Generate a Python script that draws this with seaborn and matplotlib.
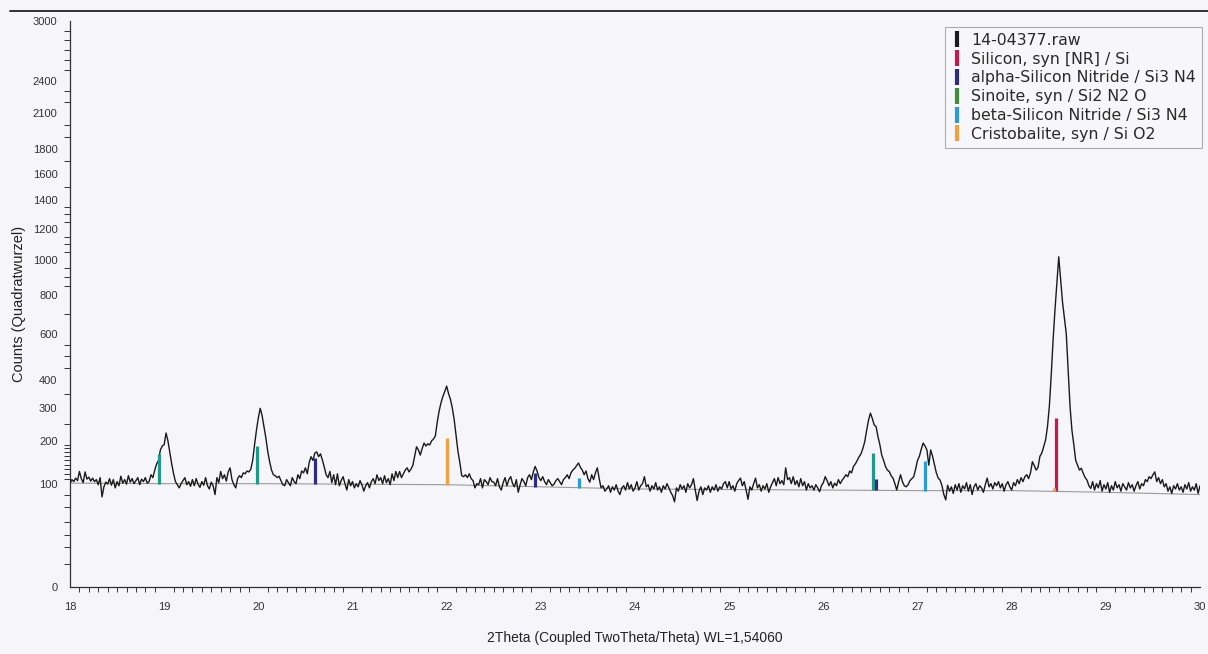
import numpy as np
import pandas as pd
import matplotlib.pyplot as plt
import seaborn as sns
from matplotlib.lines import Line2D
from matplotlib.ticker import FixedLocator

# scan 14-04377.raw, 2theta 18..30 in 0.02 steps
scan_start = 18.0
scan_step = 0.02
counts = [
    101, 108, 104, 111, 106, 125, 110, 102, 124, 109, 113, 105, 111, 104, 108, 98, 112, 76, 94, 103, 99, 110, 97, 108, 92,
    104, 96, 115, 101, 108, 99, 116, 103, 110, 100, 106, 112, 98, 109, 104, 112, 101, 104, 118, 112, 128, 142, 150, 176, 186,
    190, 222, 200, 170, 142, 120, 104, 98, 92, 100, 106, 112, 98, 104, 95, 108, 96, 110, 99, 93, 104, 97, 112, 96, 90,
    103, 96, 80, 112, 102, 125, 110, 118, 105, 124, 133, 108, 98, 92, 110, 116, 112, 122, 120, 126, 124, 130, 150, 190, 230,
    268, 299, 275, 240, 208, 172, 147, 128, 118, 116, 112, 115, 106, 98, 96, 108, 102, 96, 112, 104, 100, 118, 110, 126, 122,
    133, 120, 145, 159, 150, 168, 171, 159, 166, 151, 135, 118, 112, 125, 102, 118, 98, 120, 96, 106, 114, 100, 88, 108, 96,
    104, 92, 100, 94, 106, 98, 86, 96, 102, 92, 104, 110, 100, 118, 106, 112, 100, 116, 102, 110, 98, 120, 106, 125, 112,
    125, 112, 120, 128, 133, 124, 130, 138, 160, 184, 176, 163, 180, 194, 186, 192, 189, 200, 205, 214, 255, 290, 318, 340, 358,
    378, 350, 330, 300, 262, 215, 172, 145, 116, 114, 118, 112, 120, 110, 106, 92, 100, 98, 110, 92, 108, 104, 98, 112, 104,
    103, 96, 110, 94, 88, 102, 112, 96, 108, 114, 100, 94, 108, 84, 98, 110, 104, 96, 112, 118, 108, 124, 136, 126, 112,
    106, 114, 104, 98, 108, 102, 96, 99, 106, 110, 104, 98, 108, 112, 118, 110, 122, 128, 132, 138, 144, 134, 128, 118, 126,
    110, 103, 118, 108, 122, 133, 110, 92, 96, 86, 90, 96, 84, 94, 88, 98, 86, 80, 92, 96, 88, 102, 90, 98, 86,
    92, 104, 88, 96, 100, 114, 94, 98, 86, 96, 90, 102, 88, 94, 84, 96, 90, 100, 92, 84, 78, 68, 92, 86, 98,
    90, 96, 84, 100, 92, 98, 110, 88, 70, 86, 94, 80, 92, 88, 96, 84, 94, 88, 98, 86, 94, 90, 100, 104, 92,
    104, 90, 96, 86, 100, 106, 111, 96, 104, 88, 72, 94, 88, 100, 111, 92, 98, 86, 96, 90, 100, 84, 94, 102, 110,
    96, 112, 100, 106, 98, 133, 108, 112, 100, 114, 98, 106, 94, 110, 96, 104, 88, 100, 92, 96, 88, 98, 92, 85, 96,
    102, 114, 106, 96, 104, 92, 101, 96, 108, 100, 107, 112, 118, 114, 126, 122, 136, 142, 150, 159, 166, 180, 198, 230, 261,
    283, 266, 246, 241, 212, 190, 163, 150, 136, 128, 125, 116, 111, 100, 88, 104, 118, 104, 96, 94, 98, 106, 110, 114, 130,
    150, 160, 178, 194, 186, 176, 139, 176, 160, 140, 122, 111, 107, 96, 80, 71, 97, 86, 94, 82, 98, 88, 100, 84, 96,
    90, 102, 86, 98, 80, 94, 100, 88, 96, 92, 84, 98, 111, 94, 100, 90, 102, 96, 104, 92, 100, 86, 98, 104, 94,
    88, 102, 96, 108, 100, 112, 104, 114, 118, 110, 122, 147, 138, 128, 134, 160, 168, 185, 202, 240, 305, 420, 572, 720, 864,
    1021, 883, 760, 676, 600, 440, 305, 230, 190, 150, 139, 128, 132, 121, 112, 107, 96, 91, 104, 88, 100, 92, 106, 86, 98,
    90, 102, 84, 96, 88, 104, 92, 98, 86, 100, 94, 88, 102, 92, 98, 86, 96, 104, 90, 100, 96, 108, 104, 114, 110,
    118, 124, 104, 112, 100, 108, 94, 100, 86, 94, 82, 96, 90, 100, 88, 94, 84, 98, 90, 102, 86, 94, 88, 100, 82, 96,
]

# background curve
bg_theta = [18, 19, 20, 21, 22, 23, 24, 25, 26, 27, 28, 29, 30]
bg_counts = [101, 100, 100, 99, 98, 94, 90, 89, 88, 87, 87, 84, 80]

# reference pattern sticks
phases = ['Silicon, syn [NR] / Si', 'alpha-Silicon Nitride / Si3 N4', 'Sinoite, syn / Si2 N2 O',
          'beta-Silicon Nitride / Si3 N4', 'Cristobalite, syn / Si O2']
legend_colors = ['#c8174a', '#2e2a86', '#3f8f3a', '#2a9ad8', '#f0a040']
stick_colors = ['#c8174a', '#2e2a86', '#1f9a8a', '#2a9ad8', '#f0a040']
stick_pos = [18.95, 19.99, 20.60, 22.00, 22.94, 23.41, 26.53, 26.56, 27.08, 28.47, 28.45]
stick_base = [100, 100, 99, 98, 94, 91, 88, 88, 87, 86, 86]
stick_top = [165, 186, 155, 208, 121, 112, 167, 110, 148, 268, 91]
stick_phase = [2, 2, 1, 4, 1, 3, 2, 1, 3, 0, 4]

y_major = [0, 100, 200, 300, 400, 600, 800, 1000, 1200, 1400, 1600, 1800, 2100, 2400, 3000]
y_minor = [5, 15, 25, 40, 60, 80, 110, 120, 130, 140, 150, 160, 170, 180, 190, 250, 350,
           450, 500, 550, 700, 850, 900, 950, 1050, 1100, 1150, 1250, 1300, 1350, 1500,
           1700, 1900, 2000, 2200, 2300, 2500, 2600, 2700, 2800, 2900]

df = pd.DataFrame({'two_theta': scan_start + scan_step * np.arange(len(counts)), 'counts': counts})

sns.set_style('white')
plt.rcParams['font.family'] = ['Liberation Sans', 'DejaVu Sans']
paper = '#f6f6fa'

fig = plt.figure(figsize=(12.08, 6.54), dpi=100, facecolor=paper)
ax = fig.add_axes([70 / 1208, 67 / 654, 1130 / 1208, 566 / 654], facecolor=paper)
ax.set_yscale('function', functions=(lambda v: np.sqrt(np.clip(v, 0, None)), np.square))

ax.plot(bg_theta, bg_counts, color='#9a9a9a', lw=0.8, zorder=1)
sns.lineplot(data=df, x='two_theta', y='counts', ax=ax, color='#1a1a1a', lw=1.0,
             estimator=None, sort=False, zorder=3)
ax.vlines(stick_pos, stick_base, stick_top, colors=[stick_colors[p] for p in stick_phase],
          lw=2.3, zorder=4)

ax.set_xlim(18, 30)
ax.set_ylim(0, 3000)
ax.set_xticks(range(18, 31))
ax.xaxis.set_minor_locator(FixedLocator(np.arange(18, 30.01, 0.1)))
ax.set_yticks(y_major)
ax.set_yticklabels([str(v) for v in y_major])
ax.yaxis.set_minor_locator(FixedLocator(y_minor))

for s in ['top', 'right']:
    ax.spines[s].set_visible(False)
for s in ['left', 'bottom']:
    ax.spines[s].set_color('#333333')
    ax.spines[s].set_linewidth(0.9)

ax.tick_params(axis='both', which='major', direction='out', color='#333333',
               labelcolor='#333333', labelsize=8, width=0.8)
ax.tick_params(axis='y', which='major', length=8, pad=1)
ax.tick_params(axis='y', which='minor', length=4.5, width=0.7, color='#333333', left=True)
ax.tick_params(axis='x', which='major', length=7, pad=4)
ax.tick_params(axis='x', which='minor', length=3.5, width=0.7, color='#333333', bottom=True)

ax.set_xlabel('2Theta (Coupled TwoTheta/Theta) WL=1,54060', fontsize=10, color='#222222')
ax.set_ylabel('Counts (Quadratwurzel)', fontsize=10.5, color='#222222')
ax.xaxis.set_label_coords(0.5, -0.078)
ax.yaxis.set_label_coords(-0.039, 0.5)

handles = [Line2D([], [], color='#1a1a1a', marker='|', ls='None', markersize=11, markeredgewidth=3.0)]
handles += [Line2D([], [], color=c, marker='|', ls='None', markersize=11, markeredgewidth=3.0)
            for c in legend_colors]
leg = ax.legend(handles, ['14-04377.raw'] + phases, loc='upper right',
                bbox_to_anchor=(1.002, 0.99), borderaxespad=0, frameon=True, fancybox=False,
                prop={'family': 'DejaVu Sans', 'size': 11.3}, labelspacing=0.24,
                handlelength=0.7, handletextpad=0.55, borderpad=0.4)
leg.get_frame().set_edgecolor('#9a9a9a')
leg.get_frame().set_facecolor('#f8f8fc')
leg.get_frame().set_linewidth(0.8)
for t in leg.get_texts():
    t.set_color('#2a2a2a')

# rule across the top of the printout
fig.add_artist(Line2D([10 / 1208, 1.0], [1 - 11 / 654, 1 - 11 / 654], transform=fig.transFigure,
                      color='#222222', lw=1.3))

fig.savefig('out.png', dpi=100, facecolor=paper)
